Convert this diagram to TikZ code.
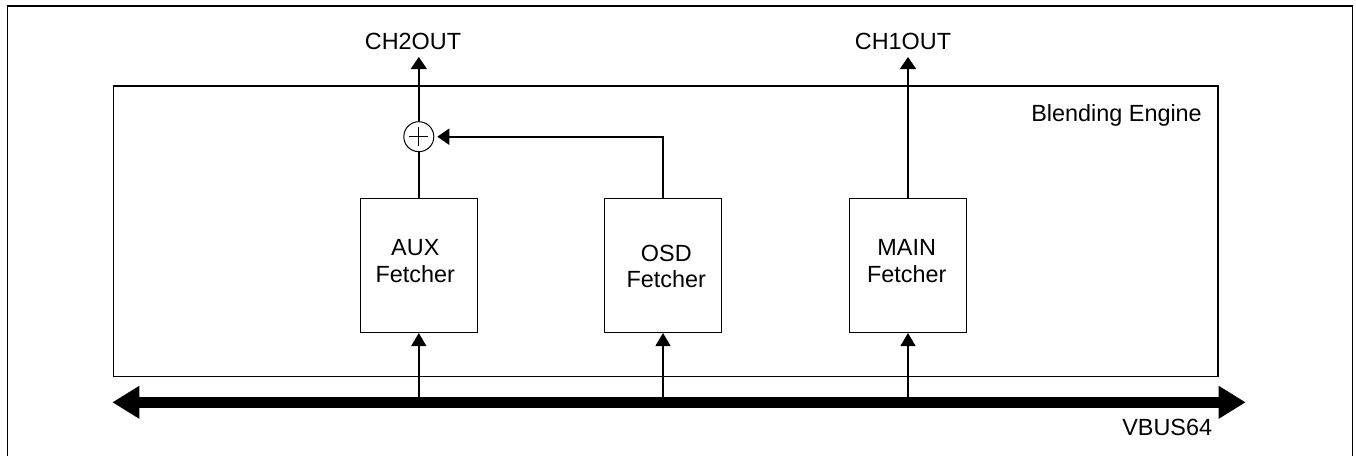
\documentclass[tikz,border=0pt]{standalone}
\usepackage{fontspec}
\setmainfont{Liberation Sans}
\usetikzlibrary{arrows.meta,calc}
\begin{document}
\begin{tikzpicture}[x=1pt,y=-1pt,
  every node/.style={font=\fontsize{23.4}{27}\selectfont},
  frameline/.style={line width=1.5pt},
  fbox/.style={draw, line width=1.5pt, minimum width=117pt, minimum height=134pt, inner sep=0pt},
  txt/.style={inner sep=0pt, anchor=base},
  sig/.style={line width=1.5pt},
  uparrow/.style={line width=1.5pt, -{Triangle[length=13pt,width=15pt]}},
  bus/.style={line width=11pt, {Triangle[length=27pt,width=31pt]}-{Triangle[length=27pt,width=31pt]}}
]
\useasboundingbox (0,0) rectangle (1356,456);
% outer frame (bottom edge outside the picture)
\draw[frameline] (7.5,456) -- (7.5,6) -- (1352.5,6) -- (1352.5,456);
% blending engine
\node (eng) [draw, line width=1.5pt, inner sep=0pt, minimum width=1104.5pt, minimum height=290.7pt, anchor=north west] at (112.5,85) {};
\node[txt, anchor=base east] (englbl) at (1202,121.1) {Blending Engine};
% fetchers
\node[fbox] (aux) at (418.8,265.3) {};
\node[fbox] (osd) at (663,265.3) {};
\node[fbox] (main) at (908,265.3) {};
\node[txt] (auxA) at (415.3,255.1) {AUX};
\node[txt] (auxB) at (415.3,282.4) {Fetcher};
\node[txt] (osdA) at (666.3,261.7) {OSD};
\node[txt] (osdB) at (666.3,287.7) {Fetcher};
\node[txt] (mainA) at (906.7,255.1) {MAIN};
\node[txt] (mainB) at (906.7,282.7) {Fetcher};
% summing junction
\node (sum) [draw, circle, line width=1pt, minimum size=30pt, inner sep=0pt] at (418.8,136.7) {};
\draw[line width=1pt] ($(sum.center)+(-9.5,0)$) -- ($(sum.center)+(9.5,0)$)
  ($(sum.center)+(0,-9.5)$) -- ($(sum.center)+(0,9.5)$);
% outputs
\node[txt] (ch2) at (413,49.1) {CH2OUT};
\node[txt] (ch1) at (903,49.1) {CH1OUT};
\coordinate (ch2tip) at (418.8,57);
\coordinate (ch1tip) at (908,57);
\draw[sig] (aux.north) -- (sum.south);
\draw[uparrow, -{Triangle[length=12pt,width=16pt]}] (sum.north) -- (ch2tip);
\draw[uparrow, -{Triangle[length=12pt,width=16pt]}] (main.north) -- (ch1tip);
\draw[line width=2pt, -{Triangle[length=12pt,width=16pt]}, shorten >=3pt] (osd.north) |- (sum.east);
% bus
\coordinate (busL) at (112.3,402.3);
\coordinate (busR) at (1245.7,402.3);
\draw[bus] (busL) -- (busR);
\node[txt, anchor=base east] (vbus) at (1212.3,435.1) {VBUS64};
\coordinate (tapA) at (418.8,402.3);
\coordinate (tapO) at (663,402.3);
\coordinate (tapM) at (908,402.3);
\draw[uparrow] (tapA) -- (aux.south);
\draw[uparrow] (tapO) -- (osd.south);
\draw[uparrow] (tapM) -- (main.south);
\end{tikzpicture}
\end{document}
